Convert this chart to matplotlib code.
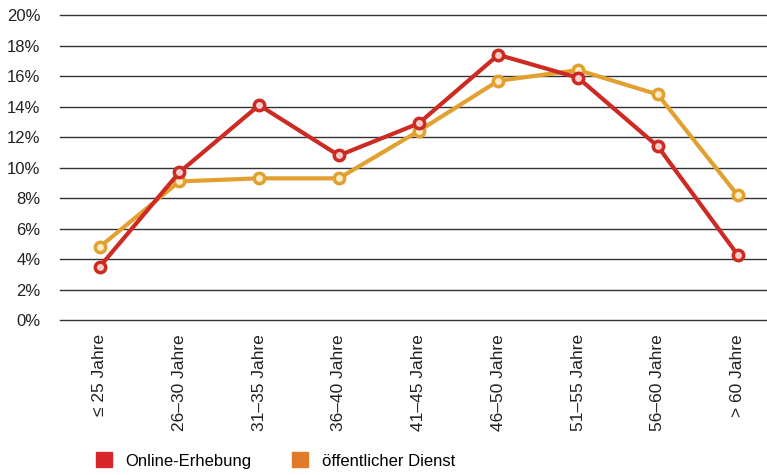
import matplotlib.pyplot as plt
from matplotlib.patches import Patch

categories = ["≤ 25 Jahre", "26–30 Jahre", "31–35 Jahre", "36–40 Jahre", "41–45 Jahre",
              "46–50 Jahre", "51–55 Jahre", "56–60 Jahre", "> 60 Jahre"]
online = [3.5, 9.7, 14.1, 10.8, 12.9, 17.4, 15.9, 11.4, 4.3]
oeffentlich = [4.8, 9.1, 9.3, 9.3, 12.4, 15.7, 16.4, 14.8, 8.2]
series_names = ["Online-Erhebung", "öffentlicher Dienst"]

font = "Liberation Sans"

fig = plt.figure(figsize=(7.67, 4.75), dpi=100)
ax = fig.add_axes([0.078, 0.326, 0.922, 0.642])

x = range(len(categories))
ax.plot(x, online, color="#cc2a22", lw=3, marker="o", ms=7.5, mfc="#f4d0cc", mec="#cc2a22", mew=2.5, zorder=3, clip_on=False)
ax.plot(x, oeffentlich, color="#e2a030", lw=3, marker="o", ms=7.5, mfc="#fbecc8", mec="#e2a030", mew=2.5, zorder=2, clip_on=False)

ax.set_ylim(0, 20)
ax.set_xlim(-0.5, 8.37)
ax.set_yticks(range(0, 21, 2))
ax.set_yticklabels([f"{v}%" for v in range(0, 21, 2)], fontsize=12, family=font, color="#222222")
ax.set_xticks(list(x))
ax.set_xticklabels(categories, rotation=90, fontsize=12.5, family=font, color="#222222")
ax.tick_params(length=0, axis="both")
ax.tick_params(axis="y", pad=14)
ax.tick_params(axis="x", pad=10)
ax.grid(axis="y", color="#333333", lw=1)
for line in ax.get_ygridlines():
    line.set_clip_on(False)
ax.set_axisbelow(True)
for s in ax.spines.values():
    s.set_visible(False)

handles = [Patch(color="#d9262b"), Patch(color="#e07b2a")]
fig.legend(handles, series_names, loc="lower left", bbox_to_anchor=(0.105, -0.018), ncol=2, frameon=False,
           prop={"family": font, "size": 12}, handlelength=1.0, handleheight=1.0,
           columnspacing=2.4, handletextpad=0.8)

fig.savefig("out.png", dpi=100)
